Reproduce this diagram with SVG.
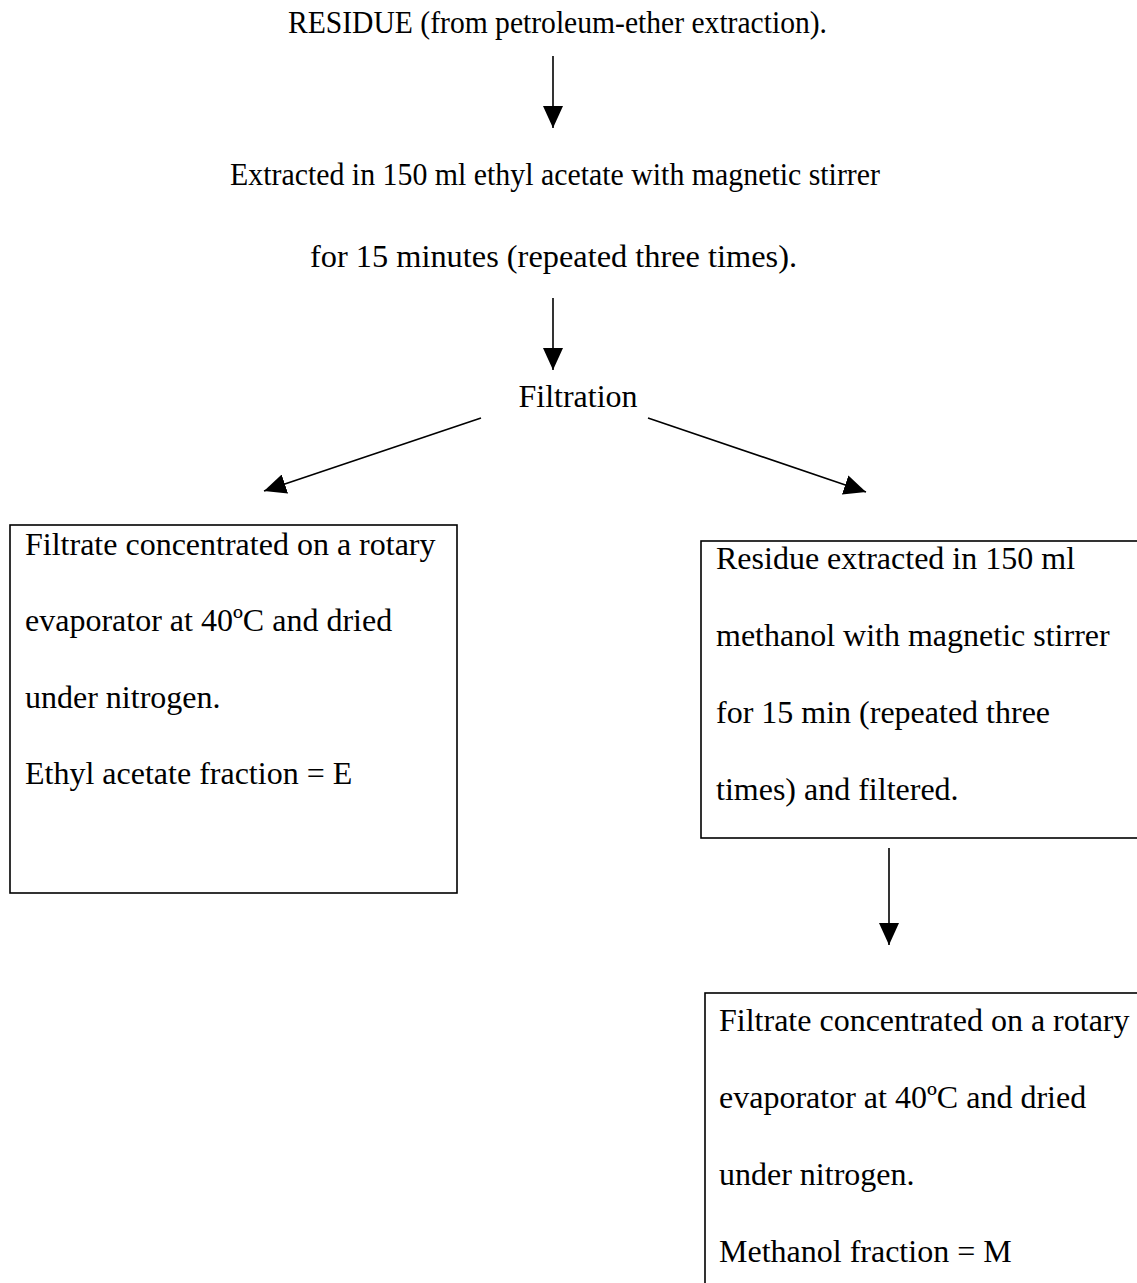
<svg xmlns="http://www.w3.org/2000/svg" width="1137" height="1283" viewBox="0 0 1137 1283">
<style>
text{font-family:"Liberation Serif","Times New Roman",serif;font-size:32px;fill:#000}
.c{text-anchor:middle}
.box{fill:none;stroke:#000;stroke-width:1.6}
.ln{stroke:#000;stroke-width:1.6;fill:none}
</style>
<defs>
<marker id="ah" markerUnits="userSpaceOnUse" markerWidth="22" markerHeight="20" refX="22" refY="10" orient="auto" viewBox="0 0 22 20">
<path d="M0,0 L22,10 L0,20 z" fill="#000"/>
</marker>
</defs>
<rect width="1137" height="1283" fill="#fff"/>
<g id="n1"><text class="c" x="557.5" y="33" textLength="539" lengthAdjust="spacingAndGlyphs">RESIDUE (from petroleum-ether extraction).</text></g>
<g id="n2"><text class="c" x="555" y="185" textLength="650" lengthAdjust="spacingAndGlyphs">Extracted in 150 ml ethyl acetate with magnetic stirrer</text><text class="c" x="553.5" y="267" textLength="487" lengthAdjust="spacingAndGlyphs">for 15 minutes (repeated three times).</text></g>
<g id="n3"><text class="c" x="578" y="407">Filtration</text></g>
<g id="n4"><rect class="box" x="10" y="525" width="447" height="368"/>
<text x="25" y="555">Filtrate concentrated on a rotary</text>
<text x="25" y="631">evaporator at 40ºC and dried</text>
<text x="25" y="708">under nitrogen.</text>
<text x="25" y="784">Ethyl acetate fraction = E</text></g>
<g id="n5"><rect class="box" x="701" y="541" width="450" height="297"/>
<text x="716" y="569">Residue extracted in 150 ml</text>
<text x="716" y="646">methanol with magnetic stirrer</text>
<text x="716" y="723">for 15 min (repeated three</text>
<text x="716" y="800">times) and filtered.</text></g>
<g id="n6"><rect class="box" x="705" y="993" width="450" height="320"/>
<text x="719" y="1031">Filtrate concentrated on a rotary</text>
<text x="719" y="1108">evaporator at 40ºC and dried</text>
<text x="719" y="1185">under nitrogen.</text>
<text x="719" y="1262">Methanol fraction = M</text></g>
<g id="connectors">
<line class="ln" x1="553" y1="56" x2="553" y2="128" marker-end="url(#ah)"/>
<line class="ln" x1="553" y1="298" x2="553" y2="370" marker-end="url(#ah)"/>
<line class="ln" x1="481" y1="418" x2="264" y2="491" marker-end="url(#ah)"/>
<line class="ln" x1="648" y1="418" x2="866" y2="492" marker-end="url(#ah)"/>
<line class="ln" x1="889" y1="848" x2="889" y2="945" marker-end="url(#ah)"/>
</g>
</svg>
